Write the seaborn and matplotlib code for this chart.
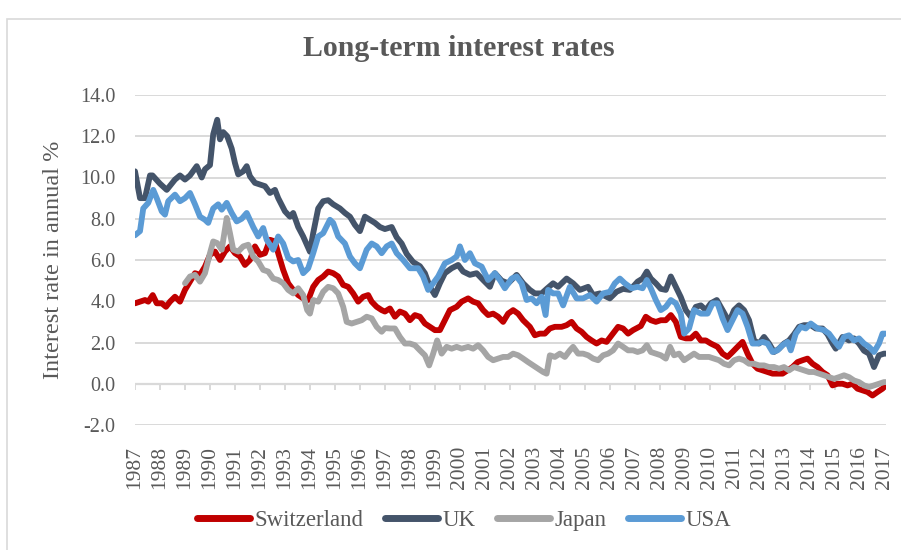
import matplotlib
matplotlib.use("Agg")
import matplotlib.pyplot as plt
from matplotlib.lines import Line2D
from matplotlib.patches import Rectangle
import seaborn as sns
import pandas as pd

# ---------------- data ----------------
series_names = ["Switzerland", "UK", "Japan", "USA"]
series_colors = ["#C00000", "#44546A", "#A5A5A5", "#5B9BD5"]

ch_years = [1987.00, 1987.20, 1987.40, 1987.53, 1987.71, 1987.87, 1988.07, 1988.24, 1988.40, 1988.60,
            1988.80, 1989.00, 1989.20, 1989.40, 1989.60, 1989.80, 1990.00, 1990.20, 1990.40, 1990.60,
            1990.80, 1991.00, 1991.20, 1991.40, 1991.60, 1991.80, 1992.00, 1992.20, 1992.40, 1992.60,
            1992.73, 1992.93, 1993.13, 1993.33, 1993.53, 1993.73, 1993.93, 1994.13, 1994.33, 1994.53,
            1994.73, 1994.93, 1995.13, 1995.33, 1995.53, 1995.73, 1995.93, 1996.13, 1996.33, 1996.47,
            1996.67, 1996.87, 1997.00, 1997.20, 1997.40, 1997.60, 1997.80, 1998.00, 1998.20, 1998.40,
            1998.60, 1998.80, 1999.00, 1999.20, 1999.40, 1999.60, 1999.87, 2000.07, 2000.33, 2000.53,
            2000.73, 2000.93, 2001.13, 2001.33, 2001.53, 2001.73, 2001.93, 2002.13, 2002.33, 2002.53,
            2002.80, 2003.00, 2003.20, 2003.40, 2003.60, 2003.80, 2004.07, 2004.27, 2004.47, 2004.67,
            2004.87, 2005.07, 2005.27, 2005.47, 2005.67, 2005.87, 2006.07, 2006.33, 2006.53, 2006.73,
            2006.93, 2007.24, 2007.44, 2007.64, 2007.84, 2008.04, 2008.24, 2008.44, 2008.64, 2008.84,
            2009.04, 2009.24, 2009.44, 2009.64, 2009.84, 2010.04, 2010.31, 2010.51, 2010.71, 2010.91,
            2011.11, 2011.31, 2011.51, 2011.71, 2011.91, 2012.11, 2012.31, 2012.51, 2012.71, 2012.91,
            2013.11, 2013.31, 2013.51, 2013.71, 2013.91, 2014.11, 2014.31, 2014.51, 2014.71, 2014.91,
            2015.11, 2015.31, 2015.51, 2015.71, 2015.91, 2016.11, 2016.31, 2016.51, 2016.71, 2016.91,
            2017.04]
ch_rates = [3.90, 3.98, 4.06, 3.98, 4.30, 3.90, 3.90, 3.73, 3.98, 4.22,
            3.98, 4.55, 4.95, 5.36, 5.28, 5.68, 6.25, 6.41, 6.00, 6.41,
            6.66, 6.33, 6.17, 5.76, 6.00, 6.66, 6.25, 6.33, 6.98, 6.90,
            6.33, 5.52, 4.87, 4.55, 4.30, 4.14, 4.06, 4.70, 5.03, 5.20,
            5.44, 5.36, 5.20, 4.79, 4.70, 4.38, 3.98, 4.22, 4.30, 3.98,
            3.73, 3.57, 3.50, 3.65, 3.25, 3.50, 3.40, 3.08, 3.33, 3.25,
            2.92, 2.76, 2.60, 2.60, 3.08, 3.57, 3.73, 3.98, 4.14, 3.98,
            3.90, 3.57, 3.33, 3.40, 3.25, 3.00, 3.40, 3.57, 3.40, 3.08,
            2.76, 2.35, 2.43, 2.43, 2.68, 2.76, 2.76, 2.84, 3.00, 2.68,
            2.52, 2.27, 2.10, 1.95, 2.10, 2.03, 2.35, 2.76, 2.68, 2.43,
            2.60, 2.80, 3.25, 3.08, 3.00, 3.08, 3.08, 3.33, 3.00, 2.27,
            2.20, 2.20, 2.43, 2.10, 2.10, 1.95, 1.79, 1.46, 1.30, 1.54,
            1.79, 2.03, 1.46, 0.97, 0.73, 0.65, 0.57, 0.49, 0.49, 0.49,
            0.65, 0.81, 1.05, 1.14, 1.22, 0.97, 0.81, 0.57, 0.41, -0.08,
            0.00, 0.00, -0.08, 0.00, -0.24, -0.32, -0.40, -0.57, -0.40, -0.24,
            -0.08]

uk_years = [1987.00, 1987.20, 1987.40, 1987.60, 1987.70, 1988.00, 1988.27, 1988.60, 1988.80, 1989.00,
            1989.20, 1989.47, 1989.67, 1989.80, 1990.00, 1990.13, 1990.29, 1990.40, 1990.53, 1990.69,
            1990.87, 1991.00, 1991.13, 1991.33, 1991.47, 1991.60, 1991.80, 1992.00, 1992.20, 1992.40,
            1992.60, 1992.73, 1993.00, 1993.20, 1993.33, 1993.53, 1993.73, 1994.00, 1994.13, 1994.33,
            1994.53, 1994.73, 1994.93, 1995.20, 1995.40, 1995.60, 1995.80, 1996.00, 1996.20, 1996.40,
            1996.60, 1996.80, 1997.00, 1997.27, 1997.47, 1997.67, 1997.87, 1998.13, 1998.40, 1998.60,
            1998.80, 1999.00, 1999.20, 1999.40, 1999.67, 1999.93, 2000.13, 2000.40, 2000.67, 2000.93,
            2001.20, 2001.40, 2001.67, 2001.93, 2002.27, 2002.53, 2002.80, 2003.00, 2003.27, 2003.47,
            2003.73, 2003.93, 2004.27, 2004.53, 2004.80, 2005.13, 2005.33, 2005.60, 2006.00, 2006.27,
            2006.53, 2006.80, 2007.00, 2007.11, 2007.31, 2007.48, 2007.64, 2007.84, 2008.04, 2008.24,
            2008.44, 2008.64, 2008.84, 2009.04, 2009.24, 2009.44, 2009.64, 2009.84, 2010.04, 2010.28,
            2010.51, 2010.77, 2010.97, 2011.17, 2011.37, 2011.57, 2011.77, 2011.97, 2012.17, 2012.37,
            2012.57, 2012.77, 2012.97, 2013.17, 2013.37, 2013.57, 2013.77, 2014.04, 2014.24, 2014.51,
            2014.71, 2014.91, 2015.04, 2015.31, 2015.57, 2015.77, 2015.97, 2016.17, 2016.37, 2016.57,
            2016.77, 2016.97, 2017.04]
uk_rates = [10.30, 9.00, 9.00, 10.10, 10.10, 9.70, 9.40, 9.90, 10.10, 9.90,
            10.10, 10.55, 10.00, 10.40, 10.60, 12.10, 12.80, 11.85, 12.20, 12.00,
            11.40, 10.70, 10.15, 10.30, 10.55, 10.06, 9.74, 9.66, 9.58, 9.25,
            9.40, 9.00, 8.36, 8.10, 8.28, 7.60, 7.14, 6.40, 7.30, 8.50,
            8.85, 8.90, 8.70, 8.50, 8.28, 8.10, 7.70, 7.40, 8.10, 7.95,
            7.80, 7.60, 7.50, 7.60, 7.10, 6.80, 6.30, 5.90, 5.70, 5.36,
            4.70, 4.30, 4.87, 5.36, 5.60, 5.76, 5.44, 5.28, 5.36, 5.03,
            4.70, 5.36, 5.00, 4.87, 5.28, 4.87, 4.55, 4.38, 4.38, 4.60,
            4.87, 4.70, 5.10, 4.87, 4.55, 4.70, 4.30, 4.38, 4.14, 4.46,
            4.60, 4.55, 4.80, 4.95, 5.10, 5.44, 5.10, 4.87, 4.60, 4.55,
            5.20, 4.70, 4.20, 3.57, 3.25, 3.73, 3.80, 3.57, 3.90, 4.06,
            3.57, 3.00, 3.57, 3.80, 3.57, 3.08, 2.10, 1.95, 2.27, 1.95,
            1.54, 1.70, 1.95, 2.10, 2.40, 2.76, 2.84, 2.84, 2.68, 2.68,
            2.40, 1.95, 1.70, 2.27, 2.10, 2.20, 1.95, 1.60, 1.46, 0.81,
            1.38, 1.46, 1.46]

jp_years = [1989.00, 1989.20, 1989.40, 1989.60, 1989.80, 1990.00, 1990.13, 1990.29, 1990.47, 1990.67,
            1990.80, 1990.93, 1991.13, 1991.33, 1991.53, 1991.73, 1991.93, 1992.13, 1992.33, 1992.53,
            1992.73, 1992.93, 1993.13, 1993.33, 1993.53, 1993.73, 1993.89, 1994.00, 1994.13, 1994.33,
            1994.53, 1994.73, 1994.93, 1995.13, 1995.33, 1995.47, 1995.67, 1995.87, 1996.07, 1996.27,
            1996.47, 1996.67, 1996.87, 1997.00, 1997.20, 1997.40, 1997.60, 1997.80, 1998.00, 1998.20,
            1998.40, 1998.60, 1998.77, 1998.93, 1999.09, 1999.27, 1999.47, 1999.67, 1999.87, 2000.07,
            2000.33, 2000.53, 2000.73, 2000.93, 2001.13, 2001.33, 2001.53, 2001.73, 2001.93, 2002.13,
            2002.33, 2002.53, 2002.73, 2002.93, 2003.13, 2003.33, 2003.47, 2003.60, 2003.80, 2004.00,
            2004.20, 2004.40, 2004.53, 2004.73, 2004.93, 2005.13, 2005.33, 2005.53, 2005.73, 2005.93,
            2006.13, 2006.33, 2006.53, 2006.73, 2006.93, 2007.11, 2007.31, 2007.48, 2007.64, 2007.84,
            2008.04, 2008.24, 2008.41, 2008.57, 2008.77, 2008.97, 2009.17, 2009.37, 2009.57, 2009.77,
            2009.97, 2010.17, 2010.37, 2010.57, 2010.77, 2010.97, 2011.17, 2011.37, 2011.57, 2011.77,
            2011.97, 2012.17, 2012.37, 2012.57, 2012.77, 2012.97, 2013.17, 2013.37, 2013.57, 2013.77,
            2013.97, 2014.17, 2014.37, 2014.57, 2014.77, 2014.97, 2015.17, 2015.37, 2015.57, 2015.77,
            2015.97, 2016.17, 2016.37, 2016.57, 2016.77, 2016.97, 2017.04]
jp_rates = [4.87, 5.20, 5.28, 4.95, 5.36, 6.33, 6.90, 6.82, 6.50, 8.04,
            7.30, 6.50, 6.41, 6.66, 6.74, 6.17, 5.93, 5.52, 5.44, 5.10,
            5.03, 4.87, 4.55, 4.38, 4.63, 4.30, 3.57, 3.40, 4.06, 3.98,
            4.46, 4.70, 4.63, 4.38, 3.73, 3.00, 2.92, 3.00, 3.08, 3.25,
            3.17, 2.76, 2.52, 2.70, 2.68, 2.68, 2.27, 1.95, 1.95, 1.87,
            1.62, 1.38, 0.89, 1.46, 2.10, 1.46, 1.79, 1.70, 1.79, 1.70,
            1.79, 1.70, 1.87, 1.62, 1.30, 1.14, 1.22, 1.30, 1.30, 1.46,
            1.38, 1.22, 1.05, 0.89, 0.73, 0.57, 0.49, 1.38, 1.30, 1.46,
            1.30, 1.62, 1.79, 1.46, 1.46, 1.38, 1.22, 1.14, 1.38, 1.46,
            1.62, 1.95, 1.79, 1.62, 1.62, 1.54, 1.62, 1.87, 1.54, 1.46,
            1.38, 1.22, 1.79, 1.38, 1.46, 1.14, 1.30, 1.46, 1.30, 1.30,
            1.30, 1.22, 1.14, 0.97, 0.89, 1.14, 1.22, 1.14, 0.97, 0.97,
            0.89, 0.89, 0.81, 0.81, 0.73, 0.81, 0.65, 0.81, 0.73, 0.65,
            0.57, 0.57, 0.49, 0.41, 0.32, 0.24, 0.32, 0.41, 0.32, 0.16,
            0.08, -0.08, -0.16, -0.08, 0.00, 0.08, 0.08]

us_years = [1987.00, 1987.20, 1987.33, 1987.53, 1987.73, 1987.87, 1988.07, 1988.20, 1988.33, 1988.60,
            1988.80, 1989.00, 1989.20, 1989.40, 1989.60, 1989.80, 1989.93, 1990.13, 1990.33, 1990.47,
            1990.67, 1990.87, 1991.07, 1991.27, 1991.47, 1991.73, 1991.93, 1992.13, 1992.27, 1992.53,
            1992.73, 1992.93, 1993.13, 1993.33, 1993.53, 1993.73, 1993.93, 1994.13, 1994.33, 1994.53,
            1994.80, 1994.93, 1995.13, 1995.40, 1995.60, 1995.80, 1996.00, 1996.27, 1996.47, 1996.67,
            1996.87, 1997.07, 1997.27, 1997.47, 1997.73, 1998.00, 1998.33, 1998.53, 1998.73, 1998.93,
            1999.13, 1999.40, 1999.67, 1999.87, 2000.00, 2000.20, 2000.40, 2000.60, 2000.87, 2001.13,
            2001.40, 2001.60, 2001.80, 2002.07, 2002.27, 2002.47, 2002.67, 2002.87, 2003.07, 2003.27,
            2003.43, 2003.53, 2003.73, 2003.93, 2004.13, 2004.40, 2004.67, 2004.93, 2005.20, 2005.47,
            2005.73, 2006.00, 2006.20, 2006.40, 2006.60, 2006.87, 2007.11, 2007.31, 2007.48, 2007.64,
            2007.84, 2008.04, 2008.24, 2008.44, 2008.64, 2008.84, 2008.97, 2009.17, 2009.37, 2009.64,
            2009.91, 2010.11, 2010.31, 2010.51, 2010.71, 2010.91, 2011.11, 2011.31, 2011.51, 2011.71,
            2011.91, 2012.11, 2012.31, 2012.51, 2012.71, 2012.91, 2013.11, 2013.24, 2013.44, 2013.64,
            2013.84, 2014.04, 2014.31, 2014.57, 2014.77, 2014.97, 2015.17, 2015.37, 2015.57, 2015.77,
            2015.97, 2016.17, 2016.37, 2016.57, 2016.77, 2016.91, 2017.04]
us_rates = [7.20, 7.40, 8.50, 8.77, 9.40, 9.00, 8.36, 8.20, 8.85, 9.17,
            8.85, 9.00, 9.25, 8.70, 8.10, 7.95, 7.80, 8.50, 8.70, 8.44,
            8.77, 8.28, 7.87, 8.00, 8.28, 7.60, 7.14, 7.55, 6.98, 6.50,
            7.14, 6.80, 6.10, 5.93, 6.00, 5.36, 5.60, 6.33, 7.14, 7.30,
            7.95, 7.80, 7.14, 6.80, 6.17, 5.84, 5.60, 6.50, 6.80, 6.66,
            6.33, 6.66, 6.80, 6.33, 6.00, 5.60, 5.60, 5.20, 4.55, 4.87,
            5.20, 5.84, 6.00, 6.17, 6.66, 6.00, 6.33, 5.84, 5.68, 5.03,
            5.36, 5.03, 4.63, 5.10, 5.20, 4.87, 4.06, 4.14, 3.90, 4.22,
            3.33, 4.55, 4.38, 4.38, 3.80, 4.70, 4.14, 4.14, 4.30, 3.98,
            4.38, 4.46, 4.87, 5.10, 4.87, 4.63, 4.70, 4.63, 5.03, 4.63,
            4.06, 3.57, 3.73, 4.06, 3.90, 3.40, 2.43, 2.68, 3.57, 3.40,
            3.40, 3.90, 3.90, 3.17, 2.60, 3.08, 3.57, 3.40, 2.76, 1.95,
            1.95, 2.03, 1.95, 1.54, 1.62, 1.87, 2.03, 1.62, 2.43, 2.76,
            2.68, 2.92, 2.68, 2.60, 2.43, 2.10, 1.79, 2.27, 2.35, 2.10,
            2.20, 1.95, 1.79, 1.54, 1.95, 2.43, 2.43]

year_ticks = list(range(1987, 2018))
y_ticks = [-2, 0, 2, 4, 6, 8, 10, 12, 14]

title_text = "Long-term interest rates"
ylabel_text = "Interest rate in annual %"

# ---------------- build long table ----------------
frames = []
for name, yrs, vals in zip(series_names,
                           [ch_years, uk_years, jp_years, us_years],
                           [ch_rates, uk_rates, jp_rates, us_rates]):
    frames.append(pd.DataFrame({"year": yrs, "rate": vals, "country": name}))
df = pd.concat(frames, ignore_index=True)

# ---------------- styling ----------------
sns.set_theme(style="white")
plt.rcParams["font.family"] = ["Liberation Serif", "DejaVu Serif"]
TXT = "#595959"
GRID = "#D9D9D9"

W, H = 901, 550
fig = plt.figure(figsize=(W / 100, H / 100), dpi=100)
ax = fig.add_axes([135 / W, 125 / H, (886 - 135) / W, 330 / H])

# chart-area border (top & left visible in reference)
fig.patches.append(Rectangle((7 / W, -0.1), 1.2, (550 - 19) / H + 0.1,
                             transform=fig.transFigure, fill=False,
                             edgecolor="#D9D9D9", linewidth=1.2))

sns.lineplot(data=df, x="year", y="rate", hue="country",
             hue_order=series_names, palette=series_colors,
             estimator=None, sort=True, linewidth=4.2, legend=False, ax=ax)
for ln in ax.get_lines():
    ln.set_solid_capstyle("round")
    ln.set_solid_joinstyle("round")

ax.set_xlim(1987, 2017.05)
ax.set_ylim(-2, 14)
ax.set_yticks(y_ticks)
ax.set_yticklabels([f"{v:.1f}" for v in y_ticks])
ax.set_xticks(year_ticks)
ax.set_xticklabels([str(y) for y in year_ticks], rotation=90, va="top", ha="center")
ax.tick_params(axis="x", length=0, pad=15, labelsize=15.5, labelcolor=TXT)
ax.tick_params(axis="y", length=0, pad=14, labelsize=14.5, labelcolor=TXT)
ax.grid(axis="y", color=GRID, linewidth=1.4, zorder=0)
ax.grid(axis="x", visible=False)
ax.set_axisbelow(True)
for s in ax.spines.values():
    s.set_visible(False)
ax.set_xlabel("")
ax.set_ylabel("")

# category axis at zero with small tick marks
ax.axhline(0, color=GRID, linewidth=1.6, zorder=0.5)
ax.vlines(year_ticks, -0.28, 0, color=GRID, linewidth=1.4, zorder=0.5)

fig.text(459 / W, 1 - 56 / H, title_text, ha="center", va="baseline",
         fontsize=21.5, fontweight="bold", color=TXT)
fig.text(54 / W, 1 - 260 / H, ylabel_text, ha="center", va="center",
         rotation=90, fontsize=17.5, color=TXT)

handles = [Line2D([0], [0], color=c, linewidth=5, solid_capstyle="round")
           for c in series_colors]
fig.legend(handles, series_names, loc="center", bbox_to_anchor=(464 / W, 1 - 520 / H),
           ncol=4, frameon=False, fontsize=16.5, labelcolor=TXT,
           handlelength=2.3, handletextpad=0.2, columnspacing=0.95)

fig.savefig("out.png", dpi=100)
